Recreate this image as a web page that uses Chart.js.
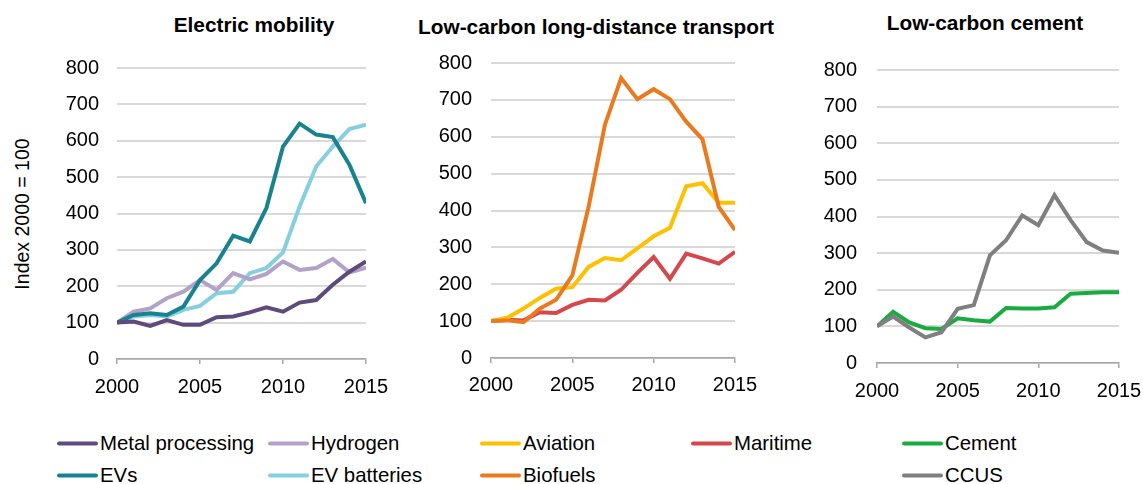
<!DOCTYPE html>
<html>
<head>
<meta charset="utf-8">
<script src="https://cdn.jsdelivr.net/npm/chart.js@4.4.1/dist/chart.umd.min.js"></script>
<style>
  html, body { margin: 0; padding: 0; background: #fff; }
  body { width: 1143px; height: 484px; position: relative; overflow: hidden;
         font-family: 'Liberation Sans', Arial, sans-serif; color: #000; }
  canvas { position: absolute; top: 0; }
  .title { position: absolute; font-weight: bold; font-size: 20.8px; white-space: nowrap;
           transform: translate(-50%, -50%); }
  .ytitle { position: absolute; font-size: 19.5px; white-space: nowrap;
            transform: translate(-50%, -50%) rotate(-90deg); }
  .leg { position: absolute; font-size: 20.4px; white-space: nowrap; display: flex; align-items: center;
         transform: translateY(-50%); }
  .leg span.sw { display: inline-block; width: 41px; height: 4px; border-radius: 2px; margin-right: 2px; }
</style>
</head>
<body>
<div class="title" style="left:254px;top:25px;">Electric mobility</div>
<div class="title" style="left:596px;top:27px;">Low-carbon long-distance transport</div>
<div class="title" style="left:985px;top:23px;">Low-carbon cement</div>
<div class="ytitle" style="left:22px;top:214px;">Index 2000 = 100</div>

<canvas id="c1" width="400" height="400" style="left:0px;"></canvas>
<canvas id="c2" width="380" height="400" style="left:380px;"></canvas>
<canvas id="c3" width="383" height="400" style="left:760px;"></canvas>

<div id="legend"></div>

<script>
// ---- Data ----
const years = [2000, 2001, 2002, 2003, 2004, 2005, 2006, 2007, 2008, 2009, 2010, 2011, 2012, 2013, 2014, 2015];
const xTicks = [2000, 2005, 2010, 2015];
const yTicks = [0, 100, 200, 300, 400, 500, 600, 700, 800];

// Electric mobility
const metalProcessing = [100, 103, 91, 107, 94, 94, 115, 117, 128, 142, 130, 155, 162, 204, 240, 268];
const hydrogen        = [100, 130, 139, 167, 185, 217, 190, 236, 219, 234, 268, 245, 250, 275, 238, 251];
const evs             = [100, 121, 126, 121, 144, 217, 263, 339, 323, 415, 584, 647, 617, 610, 534, 428];
const evBatteries     = [100, 117, 121, 117, 135, 146, 181, 185, 236, 250, 293, 419, 529, 584, 632, 644];

// Low-carbon long-distance transport
const aviation = [100, 109, 134, 163, 188, 192, 247, 271, 265, 297, 330, 353, 466, 474, 421, 421];
const biofuels = [100, 102, 97, 134, 158, 224, 410, 632, 759, 702, 729, 702, 641, 593, 410, 347];
const maritime = [100, 104, 102, 124, 122, 144, 158, 156, 185, 231, 274, 215, 283, 270, 256, 288];

// Low-carbon cement
const cement = [100, 140, 111, 95, 93, 122, 117, 113, 150, 149, 149, 152, 189, 191, 193, 193];
const ccus   = [100, 127, 97, 70, 84, 148, 158, 294, 335, 403, 376, 458, 390, 330, 307, 301];

// ---- Styling ----
const FONT = "'Liberation Sans', Arial, sans-serif";
const COLORS = {
  metal: '#5E4A7D', hydrogen: '#B3A2C7', evs: '#17838F', evBat: '#86CFE0',
  aviation: '#FFC000', maritime: '#D5474A', biofuels: '#EA7A1D',
  cement: '#1AAB40', ccus: '#7F7F7F'
};

function pts(arr) { return years.map((y, i) => ({ x: y, y: arr[i] })); }
function ds(label, arr, color) {
  return { label, data: pts(arr), borderColor: color, backgroundColor: color,
           borderWidth: 4, pointRadius: 0, tension: 0, fill: false };
}

function makeChart(id, datasets, geom) {
  const ctx = document.getElementById(id);
  return new Chart(ctx, {
    type: 'line',
    data: { datasets },
    options: {
      responsive: false,
      animation: false,
      devicePixelRatio: 1,
      layout: { padding: { top: geom.top, right: geom.right, left: 0, bottom: 0 } },
      plugins: { legend: { display: false }, tooltip: { enabled: false }, title: { display: false } },
      scales: {
        x: {
          type: 'linear', min: 2000, max: 2015,
          afterBuildTicks: (s) => { s.ticks = xTicks.map(v => ({ value: v })); },
          afterFit: (s) => { s.height = geom.xh; s.paddingLeft = 0; s.paddingRight = 0; },
          grid: { drawOnChartArea: false, drawTicks: true, tickLength: 5, color: '#A6A6A6', lineWidth: 1.5 },
          border: { display: true, color: '#A6A6A6', width: 1.5 },
          ticks: { color: '#000', font: { family: FONT, size: 20 }, padding: geom.xpad,
                   maxRotation: 0, autoSkip: false, callback: (v) => String(v) }
        },
        y: {
          min: 0, max: 800,
          afterBuildTicks: (s) => { s.ticks = yTicks.map(v => ({ value: v })); },
          afterFit: (s) => { s.width = geom.yw; s.paddingTop = 0; s.paddingBottom = 0; },
          grid: { color: '#D9D9D9', lineWidth: 2, drawTicks: false },
          border: { display: false },
          ticks: { color: '#000', font: { family: FONT, size: 20 }, padding: geom.ypad,
                   callback: (v) => String(v) }
        }
      }
    }
  });
}

makeChart('c1', [
  ds('Metal processing', metalProcessing, COLORS.metal),
  ds('EVs', evs, COLORS.evs),
  ds('Hydrogen', hydrogen, COLORS.hydrogen),
  ds('EV batteries', evBatteries, COLORS.evBat)
], { top: 68, right: 34, yw: 117, xh: 41, ypad: 18, xpad: 11 });

makeChart('c2', [
  ds('Biofuels', biofuels, COLORS.biofuels),
  ds('Aviation', aviation, COLORS.aviation),
  ds('Maritime', maritime, COLORS.maritime)
], { top: 63, right: 25, yw: 111, xh: 42, ypad: 19, xpad: 10 });

makeChart('c3', [
  ds('CCUS', ccus, COLORS.ccus),
  ds('Cement', cement, COLORS.cement)
], { top: 70, right: 24, yw: 117, xh: 37, ypad: 20, xpad: 11 });

// ---- HTML legend ----
const legendItems = [
  ['Metal processing', COLORS.metal, 57, 443],
  ['Hydrogen', COLORS.hydrogen, 268, 443],
  ['Aviation', COLORS.aviation, 480, 443],
  ['Maritime', COLORS.maritime, 691, 443],
  ['Cement', COLORS.cement, 902, 443],
  ['EVs', COLORS.evs, 57, 475],
  ['EV batteries', COLORS.evBat, 268, 475],
  ['Biofuels', COLORS.biofuels, 480, 475],
  ['CCUS', COLORS.ccus, 902, 475]
];
const leg = document.getElementById('legend');
legendItems.forEach(([t, c, x, y]) => {
  const d = document.createElement('div');
  d.className = 'leg';
  d.style.left = x + 'px'; d.style.top = y + 'px';
  const sw = document.createElement('span'); sw.className = 'sw'; sw.style.background = c;
  d.appendChild(sw);
  d.appendChild(document.createTextNode(t));
  leg.appendChild(d);
});
</script>
</body>
</html>
